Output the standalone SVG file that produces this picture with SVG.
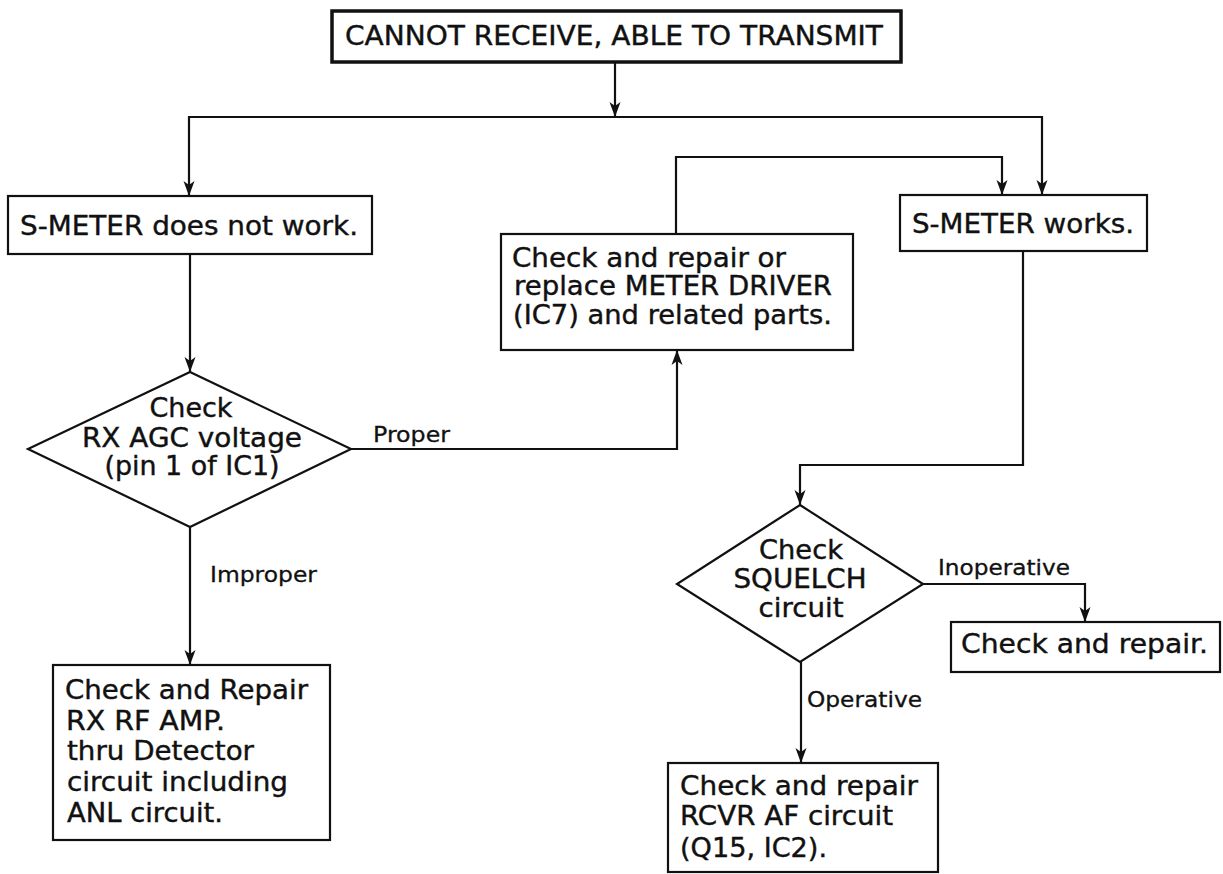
<svg xmlns="http://www.w3.org/2000/svg" width="1223" height="874" viewBox="0 0 1223 874">
<defs>
<style>
.box{fill:#fff;stroke:#111;stroke-width:2.2}
.thick{stroke-width:3.5}
.t{font-family:"DejaVu Sans","Liberation Sans",sans-serif;font-size:26px;fill:#111;stroke:#111;stroke-width:0.4}
.c{text-anchor:middle}
.lbl{font-family:"DejaVu Sans","Liberation Sans",sans-serif;font-size:21px;fill:#111;stroke:#111;stroke-width:0.3}
.ln{fill:none;stroke:#111;stroke-width:2.2;marker-end:url(#arr)}
</style>
<marker id="arr" markerUnits="userSpaceOnUse" markerWidth="18" markerHeight="14" refX="15" refY="6" orient="auto">
<path d="M0,0.5 L15,6 L0,11.5 L4,6 z" fill="#111"/>
</marker>
</defs>
<rect width="1223" height="874" fill="#fff"/>

<g id="connectors">
<path class="ln" d="M615,62 V117"/>
<path class="ln" d="M615,117 H189 V196"/>
<path class="ln" d="M615,117 H1042 V195"/>
<path class="ln" d="M190,254 V372"/>
<path class="ln" d="M351,449 H677 V350"/>
<path class="ln" d="M190,527 V665"/>
<path class="ln" d="M676,234 V157 H1002 V195"/>
<path class="ln" d="M1023,251 V465 H800 V505"/>
<path class="ln" d="M923,584 H1085 V622"/>
<path class="ln" d="M801,662 V763"/>
<text class="lbl" x="373" y="442" textLength="77" lengthAdjust="spacingAndGlyphs">Proper</text>
<text class="lbl" x="210" y="582" textLength="107" lengthAdjust="spacingAndGlyphs">Improper</text>
<text class="lbl" x="938" y="575" textLength="132" lengthAdjust="spacingAndGlyphs">Inoperative</text>
<text class="lbl" x="807" y="707" textLength="115" lengthAdjust="spacingAndGlyphs">Operative</text>
</g>

<g id="start">
<rect class="box thick" x="332" y="11" width="569" height="51"/>
<text class="t" x="345" y="45" textLength="538" lengthAdjust="spacingAndGlyphs">CANNOT RECEIVE, ABLE TO TRANSMIT</text>
</g>

<g id="smeter-not-work">
<rect class="box" x="8" y="196" width="364" height="58"/>
<text class="t" x="20" y="235" textLength="338" lengthAdjust="spacingAndGlyphs">S-METER does not work.</text>
</g>

<g id="check-agc">
<polygon class="box" points="190,372 351,449 190,527 28,449"/>
<text class="t c" x="191" y="417" textLength="83" lengthAdjust="spacingAndGlyphs">Check</text>
<text class="t c" x="192" y="447" textLength="220" lengthAdjust="spacingAndGlyphs">RX AGC voltage</text>
<text class="t c" x="192" y="475" textLength="175" lengthAdjust="spacingAndGlyphs">(pin 1 of IC1)</text>
</g>

<g id="meter-driver">
<rect class="box" x="501" y="234" width="352" height="116"/>
<text class="t" x="512" y="267" textLength="274" lengthAdjust="spacingAndGlyphs">Check and repair or</text>
<text class="t" x="514" y="295" textLength="318" lengthAdjust="spacingAndGlyphs">replace METER DRIVER</text>
<text class="t" x="513" y="324" textLength="319" lengthAdjust="spacingAndGlyphs">(IC7) and related parts.</text>
</g>

<g id="smeter-works">
<rect class="box" x="900" y="195" width="247" height="56"/>
<text class="t" x="912" y="233" textLength="222" lengthAdjust="spacingAndGlyphs">S-METER works.</text>
</g>

<g id="rf-amp">
<rect class="box" x="53" y="665" width="277" height="175"/>
<text class="t" x="65" y="699" textLength="243" lengthAdjust="spacingAndGlyphs">Check and Repair</text>
<text class="t" x="66" y="730" textLength="159" lengthAdjust="spacingAndGlyphs">RX RF AMP.</text>
<text class="t" x="67" y="760" textLength="187" lengthAdjust="spacingAndGlyphs">thru Detector</text>
<text class="t" x="67" y="791" textLength="221" lengthAdjust="spacingAndGlyphs">circuit including</text>
<text class="t" x="67" y="822" textLength="156" lengthAdjust="spacingAndGlyphs">ANL circuit.</text>
</g>

<g id="check-squelch">
<polygon class="box" points="800,505 923,584 800,662 677,584"/>
<text class="t c" x="801" y="559" textLength="84" lengthAdjust="spacingAndGlyphs">Check</text>
<text class="t c" x="800" y="588" textLength="133" lengthAdjust="spacingAndGlyphs">SQUELCH</text>
<text class="t c" x="801" y="617" textLength="85" lengthAdjust="spacingAndGlyphs">circuit</text>
</g>

<g id="check-repair">
<rect class="box" x="951" y="622" width="269" height="50"/>
<text class="t" x="961" y="653" textLength="247" lengthAdjust="spacingAndGlyphs">Check and repair.</text>
</g>

<g id="rcvr-af">
<rect class="box" x="668" y="763" width="270" height="109"/>
<text class="t" x="680" y="795" textLength="238" lengthAdjust="spacingAndGlyphs">Check and repair</text>
<text class="t" x="680" y="825" textLength="213" lengthAdjust="spacingAndGlyphs">RCVR AF circuit</text>
<text class="t" x="680" y="857" textLength="147" lengthAdjust="spacingAndGlyphs">(Q15, IC2).</text>
</g>
</svg>
